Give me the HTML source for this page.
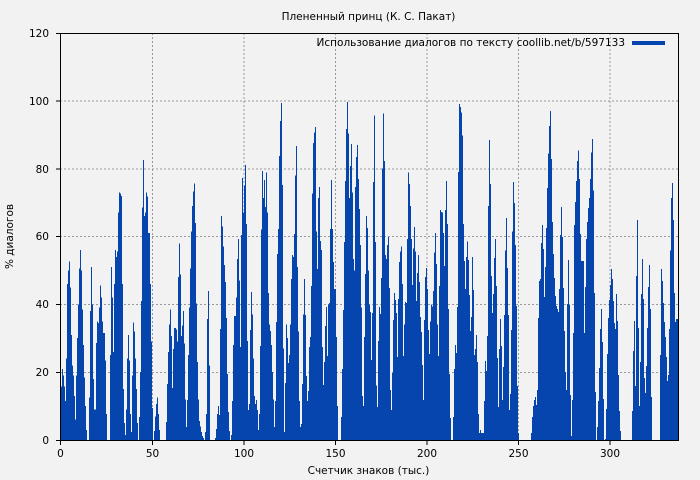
<!DOCTYPE html>
<html><head><meta charset="utf-8"><style>
html,body{margin:0;padding:0;background:#f2f2f2;}
svg{display:block;}
text{font-family:"DejaVu Sans","Liberation Sans",sans-serif;font-size:10.5px;fill:#000;}
</style></head><body>
<svg width="700" height="480" viewBox="0 0 700 480" xmlns="http://www.w3.org/2000/svg">
<rect x="0" y="0" width="700" height="480" fill="#f2f2f2"/>
<g stroke="#999" stroke-width="1" stroke-dasharray="2,2" fill="none">
<line x1="152.5" y1="33" x2="152.5" y2="440"/>
<line x1="244" y1="33" x2="244" y2="440"/>
<line x1="335.5" y1="33" x2="335.5" y2="440"/>
<line x1="427" y1="33" x2="427" y2="440"/>
<line x1="518.5" y1="33" x2="518.5" y2="440"/>
<line x1="610" y1="33" x2="610" y2="440"/>
<line x1="60" y1="372.5" x2="678" y2="372.5"/>
<line x1="60" y1="304.5" x2="678" y2="304.5"/>
<line x1="60" y1="236.5" x2="678" y2="236.5"/>
<line x1="60" y1="169" x2="678" y2="169"/>
<line x1="60" y1="101" x2="678" y2="101"/>
</g>
<g transform="translate(0,440) scale(1,-3.392)">
<path fill="#0645ad" shape-rendering="crispEdges" d="M60 0
V15.7h1V15.7h1V21h1V19h1V15.7h1V11.5h1V24h1V46h1V50h1V52.6h1
V45h1V31h1V22h1V19h1V13h1V6h1V19h1V30h1V40h1V50.5h1
V56h1V50h1V38.5h1V28h1V18.4h1V10h1V3h1V0h1V0h1V12.6h1
V38h1V51h1V40h1V18h1V9h1V9h1V28.6h1V35h1V34.5h1V39h1
V45.6h1V42h1V35h1V31.5h1V31.5h1V23.5h1V7.6h1V0h1V0h1V0h1
V25h1V51h1V42h1V26h1V46h1V56h1V54h1V55.6h1V67h1V73h1
V72.6h1V72h1V46h1V15h1V5h1V1.5h1V9h1V24h1V31h1V23.5h1
V7.6h1V2.4h1V19h1V34.7h1V32h1V24h1V15h1V5h1V0h1V6.8h1
V20h1V41h1V68.5h1V82.6h1V66h1V67h1V73h1V71.8h1V61h1V61h1
V46h1V29h1V9.5h1V0h1V2.6h1V7h1V10.6h1V12.6h1V7.6h1V3h1
V0h6V5.3h1V16.5h1V26h1V34h1
V38.5h1V30.6h1V15.3h1V26.8h1V33h1V33h1V32.6h1V29h1V48h1V58h1
V48.8h1V30.6h1V33.8h1V38h1V28.5h1V12h1V3.8h1V11.8h1V25h1V39h1
V50.6h1V61.5h1V69h1V73.2h1V75.6h1V64h1V40.3h1V23h1V12h1V5.6h1
V4h1V2.4h1V1.2h1V0.6h1V0h1V2.4h1V7.6h1V35.6h1V44h1V22h1
V0h5V0.6h1V3.2h1V7.6h1V10h1V7.4h1
V32.7h1V66h1V63h1V57h1V51.6h1V46.6h1V36h1V19.5h1V8.3h1V2.7h1
V0h1V1.5h1V11.5h1V28h1V36.6h1V36.6h1V42h1V53.4h1V59.3h1V47h1
V27.4h1V60.5h1V77.3h1V67h1V75h1V81h1V63.7h1V29.2h1V8.8h1V10.6h1
V32.4h1V43.6h1V37h1V24h1V13h1V10.6h1V11.8h1V8.8h1V3h1V7.7h1
V27.7h1V62h1V79.3h1V71.4h1V76.7h1V68.7h1V78.8h1V67h1V43.4h1V34h1
V32.2h1V28h1V20h1V12h1V3.8h1V11.5h1V34.8h1V54.9h1V62.2h1V83.8h1
V94h1V99.4h1V75.2h1V27h1V2.4h1V16.8h1V34h1V30h1V22.7h1V25h1
V34h1V47.5h1V54.5h1V54h1V60.8h1V78h1V86.7h1V51h1V32h1V11.5h1
V3.8h1V4.7h1V16.5h1V37h1V47.5h1V36.8h1V18.9h1V11.5h1V14.5h1V27.4h1
V30.4h1V45.4h1V72.6h1V87.6h1V90.6h1V92.3h1V61.4h1V50.4h1V71.4h1V74.6h1
V58.7h1V56h1V27.4h1V16.2h1V23h1V33.6h1V39.2h1V24.8h1V40h1V40.4h1
V62.2h1V76.7h1V62.2h1V52.5h1V44.5h1V44.5h1V30.4h1V10h1V0h2
V0h1V6.8h1V21h1V38.3h1V58.4h1V76.4h1V91.7h1V99.7h1V90.3h1V71.4h1
V80.8h1V87.3h1V72.9h1V53.4h1V49.9h1V74.6h1V83.5h1V87h1V77h1V68.1h1
V57.5h1V39h1V13h1V10h1V30.4h1V49h1V66h1V62.5h1V50h1V40h1
V37.8h1V23.6h1V37.5h1V76h1V95.6h1V58.4h1V16h1V9.7h1V29.2h1V39.2h1
V37.2h1V47.8h1V80h1V96.2h1V82.3h1V54.6h1V53.4h1V57.5h1V59.9h1V44.8h1
V14.7h1V8.8h1V19.8h1V35.4h1V43.4h1V41.3h1V37.5h1V24.5h1V41.6h1V52.5h1
V55.5h1V57h1V46h1V24.8h1V34h1V40.7h1V40.4h1V59.3h1V78.8h1V75.5h1
V69h1V59.3h1V45.7h1V56.4h1V62.8h1V55.5h1V41h1V49.3h1V54.6h1V46.6h1
V36.3h1V31.9h1V22.1h1V11.8h1V35.4h1V48h1V50.7h1V44.5h1V32.4h1V25.4h1
V35h1V40h1V39.4h1V44h1V55.3h1V61h1V51.9h1V34h1V24.8h1V45.4h1
V67.8h1V67.2h1V67h1V61h1V51.3h1V67.8h1V76.4h1V63.7h1V38.6h1V19.5h1
V6.5h1V0h2V6.8h1V21h1V28h1V25.7h1V39.2h1V79h1V99.1h1
V98.2h1V96.5h1V89.7h1V63.7h1V52.8h1V44.5h1V54h1V58.5h1V53h1V42.8h1
V32.2h1V36.3h1V54h1V44.2h1V25h1V26.8h1V31h1V23h1V7.7h1V2h1
V3h1V2h3V11.5h1V23.3h1V20.4h1V30.7h1V69h1V88.5h1
V75.5h1V48.4h1V37.5h1V43h1V53.7h1V59.3h1V45.4h1V24.2h1V9.7h1V26.8h1
V35.7h1V27.7h1V11.8h1V21.5h1V36.9h1V55.8h1V65.5h1V50.7h1V36.9h1V8.8h1
V13.6h1V32.4h1V61.4h1V76h1V69.9h1V57.5h1V39.5h1V15.9h1V2h1V0h1
V0h11
V2h1V6.8h1V10h1V11.8h1V12.7h1V10.3h1V14.7h1V36h1V46.9h1
V47.5h1V58.1h1V63.4h1V56.3h1V42.2h1V51h1V62.5h1V74.3h1V84.4h1V92.6h1
V97h1V82.9h1V64.3h1V54.9h1V47.8h1V42.5h1V39.5h1V38.6h1V37.8h1V44.5h1
V60.5h1V68.7h1V59.9h1V44.8h1V32.2h1V20h1V14.7h1V40.1h1V53.1h1V39.8h1
V13.3h1V1.2h1V11.8h1V31.6h1V63.4h1V70.2h1V76.4h1V82.3h1V85.3h1V77h1
V60.8h1V52.8h3V31.6h1V45.1h1V59.3h1V64.3h1V68.4h1V71.4h1
V77h1V84.7h1V88.8h1V73.5h1V43.4h1V14.2h1V0h1V3.8h1V11.5h1V21.2h1
V32.7h1V38.6h1V28.9h1V12.1h1V0h1V0.3h1V9.1h1V25.4h1V36h1V41.3h1
V45.7h1V50.4h1V47.5h1V41h1V34.5h1V32.7h1V43h1V35.1h1V19.2h1V8.6h1
V2.7h1V0h11
V8.6h1V26.3h1V35.1h1V15.9h1V48.4h1V64.9h1V33h1V10h1
V23h1V43h1V53.4h1V41.6h1V18.3h1V13.9h1V21.8h1V33h1V45.1h1V51.6h1
V38.6h1V12.7h1V0h8
V25h1V50.4h1V46.9h1V40.4h1V34.8h1V30.4h1V24.5h1V17.4h1V19.2h1V32.7h1
V55.8h1V71.4h1V75.8h1V64.9h1V43.4h1V34.8h1V35.7h1V35.7h1
V0Z"/>
</g>
<rect x="60.5" y="33.5" width="618" height="407" fill="none" stroke="#000" stroke-width="1"/>
<g stroke="#000" stroke-width="1">
<line x1="56" y1="440.5" x2="60" y2="440.5"/>
<line x1="56" y1="372.5" x2="60" y2="372.5"/>
<line x1="56" y1="304.5" x2="60" y2="304.5"/>
<line x1="56" y1="236.5" x2="60" y2="236.5"/>
<line x1="56" y1="169" x2="60" y2="169"/>
<line x1="56" y1="101" x2="60" y2="101"/>
<line x1="56" y1="33.5" x2="60" y2="33.5"/>
<line x1="60.5" y1="441" x2="60.5" y2="445"/>
<line x1="152.5" y1="441" x2="152.5" y2="445"/>
<line x1="244" y1="441" x2="244" y2="445"/>
<line x1="335.5" y1="441" x2="335.5" y2="445"/>
<line x1="427" y1="441" x2="427" y2="445"/>
<line x1="518.5" y1="441" x2="518.5" y2="445"/>
<line x1="610" y1="441" x2="610" y2="445"/>
</g>
<g text-anchor="end">
<text x="49" y="444">0</text>
<text x="49" y="376">20</text>
<text x="49" y="308">40</text>
<text x="49" y="240">60</text>
<text x="49" y="173">80</text>
<text x="49" y="105">100</text>
<text x="49" y="37">120</text>
</g>
<g text-anchor="middle">
<text x="60.5" y="457">0</text>
<text x="152.5" y="457">50</text>
<text x="244" y="457">100</text>
<text x="335.5" y="457">150</text>
<text x="427" y="457">200</text>
<text x="518.5" y="457">250</text>
<text x="610" y="457">300</text>
<text x="368.5" y="474">Счетчик знаков (тыс.)</text>
<text x="368.5" y="20">Плененный принц (К. С. Пакат)</text>
<text transform="translate(13,236.5) rotate(-90)">% диалогов</text>
</g>
<text x="625" y="46" text-anchor="end">Использование диалогов по тексту coollib.net/b/597133</text>
<rect x="632" y="41" width="33" height="4" fill="#0645ad"/>
</svg>
</body></html>
